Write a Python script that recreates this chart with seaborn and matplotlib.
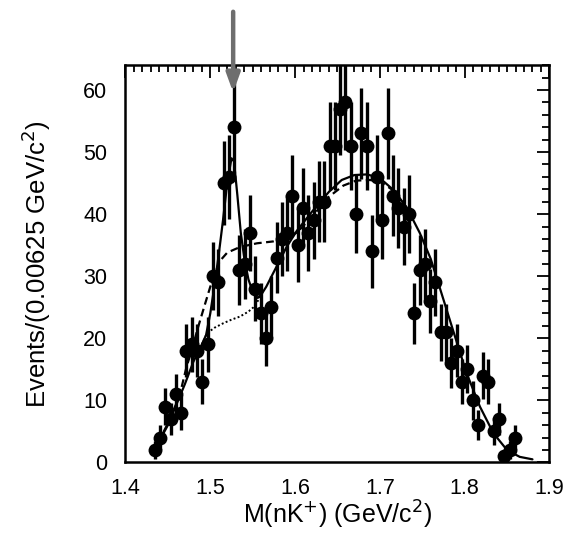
import numpy as np
import matplotlib
matplotlib.use("Agg")
import matplotlib.pyplot as plt
import seaborn as sns
from matplotlib.ticker import MultipleLocator

# event counts per 0.00625 GeV/c^2 bin, first bin centred at 1.434375
counts = [2, 4, 9, 7, 11, 8, 18, 19, 18, 13, 19, 30, 29, 45, 46, 54, 31, 32, 37, 28,
          24, 20, 25, 33, 36, 37, 43, 35, 41, 37, 39, 42, 42, 51, 51, 57, 58, 51, 40, 53,
          51, 34, 46, 39, 53, 43, 41, 38, 40, 24, 31, 32, 26, 29, 21, 21, 16, 18, 13, 15,
          10, 6, 14, 13, 5, 7, 1, 2, 4]
first_bin = 1.434375
bin_width = 0.00625

# fit with peak (solid)
fit_x = [1.430, 1.440, 1.450, 1.460, 1.470, 1.480, 1.490, 1.495, 1.500, 1.505, 1.510,
         1.515, 1.520, 1.525, 1.528, 1.532, 1.536, 1.540, 1.545, 1.550, 1.556, 1.560,
         1.566, 1.578, 1.590, 1.602, 1.620, 1.640, 1.655, 1.670, 1.685, 1.700, 1.716,
         1.732, 1.747, 1.760, 1.771, 1.787, 1.802, 1.818, 1.834, 1.850, 1.865, 1.880]
fit_y = [1.5, 3.5, 6.0, 9.3, 12.6, 16.2, 19.0, 20.5, 24.0, 28.5, 33.5,
         39.0, 45.0, 49.0, 48.5, 43.0, 37.0, 33.0, 29.5, 27.5, 26.5, 27.0,
         28.3, 31.5, 34.7, 37.3, 40.4, 43.6, 45.5, 46.3, 46.4, 45.8, 43.9,
         41.0, 37.0, 32.8, 28.0, 21.0, 14.5, 9.0, 4.7, 2.0, 0.9, 0.5]

# fit without peak (dashed)
nopk_x = [1.430, 1.440, 1.450, 1.460, 1.466, 1.472, 1.478, 1.485, 1.494, 1.500, 1.511,
          1.520, 1.535, 1.555, 1.574, 1.590, 1.602, 1.620, 1.640, 1.657, 1.672, 1.688,
          1.700, 1.716, 1.732]
nopk_y = [1.5, 3.6, 6.3, 9.5, 12.0, 15.4, 18.0, 21.5, 25.6, 28.3, 32.4,
          33.8, 34.7, 35.3, 35.6, 36.3, 37.0, 39.6, 42.8, 44.6, 45.4, 45.5,
          45.3, 43.8, 41.0]

# background under the peak (dotted)
bkg_x = [1.490, 1.496, 1.505, 1.515, 1.525, 1.535, 1.545, 1.551, 1.556, 1.560]
bkg_y = [19.0, 20.8, 21.7, 22.4, 23.0, 23.5, 24.3, 25.0, 26.0, 27.0]

arrow_mass = 1.527

sns.set_style("white")
plt.rcParams['font.family'] = ['Liberation Sans', 'DejaVu Sans']
plt.rcParams['text.color'] = 'black'
plt.rcParams['axes.labelcolor'] = 'black'
plt.rcParams['xtick.color'] = 'black'
plt.rcParams['ytick.color'] = 'black'

fig = plt.figure(figsize=(5.66, 5.34), dpi=100)
ax = fig.add_axes([0.2217, 0.134, 0.749, 0.744])

mass = first_bin + bin_width * np.arange(len(counts))
cnt = np.array(counts, dtype=float)

sns.lineplot(x=fit_x, y=fit_y, color='black', lw=1.6, ax=ax, sort=False)
sns.lineplot(x=nopk_x, y=nopk_y, color='black', lw=1.6, ls=(0, (3.5, 2)), ax=ax, sort=False)
sns.lineplot(x=bkg_x, y=bkg_y, color='black', lw=1.4, ls=(0, (1, 1.2)), ax=ax, sort=False)

ax.errorbar(mass, cnt, yerr=np.sqrt(cnt), fmt='none', ecolor='black', elinewidth=2.4,
            capsize=0)
sns.scatterplot(x=mass, y=cnt, color='black', s=100, edgecolor='black', linewidth=0,
                ax=ax, zorder=5)

ax.annotate('', xy=(arrow_mass, 59.6), xytext=(arrow_mass, 72.6),
            xycoords='data', annotation_clip=False,
            arrowprops=dict(arrowstyle='-|>,head_width=0.4,head_length=1.1',
                            color='#6e6e6e', lw=3.2, shrinkA=0, shrinkB=0),
            zorder=10)

ax.set_xlim(1.4, 1.9)
ax.set_ylim(0, 64)
ax.xaxis.set_major_locator(MultipleLocator(0.1))
ax.xaxis.set_minor_locator(MultipleLocator(0.01))
ax.yaxis.set_major_locator(MultipleLocator(10))
ax.yaxis.set_minor_locator(MultipleLocator(2))
ax.set_xticks([1.4, 1.5, 1.6, 1.7, 1.8, 1.9])
ax.set_xticklabels(['1.4', '1.5', '1.6', '1.7', '1.8', '1.9'])
ax.tick_params(which='both', direction='in', top=True, right=True,
               labelsize=15.5, width=1.3)
ax.tick_params(axis='x', which='major', length=9, pad=11)
ax.tick_params(axis='y', which='major', length=9, pad=13)
ax.tick_params(which='minor', length=5)
for sp in ax.spines.values():
    sp.set_linewidth(1.8)
    sp.set_color('black')

ax.set_xlabel('M(nK$^{+}$) (GeV/c$^{2}$)', fontsize=18, labelpad=0)
ax.set_ylabel('Events/(0.00625 GeV/c$^{2}$)', fontsize=18.5, labelpad=22)

fig.savefig('out.png', dpi=100)
